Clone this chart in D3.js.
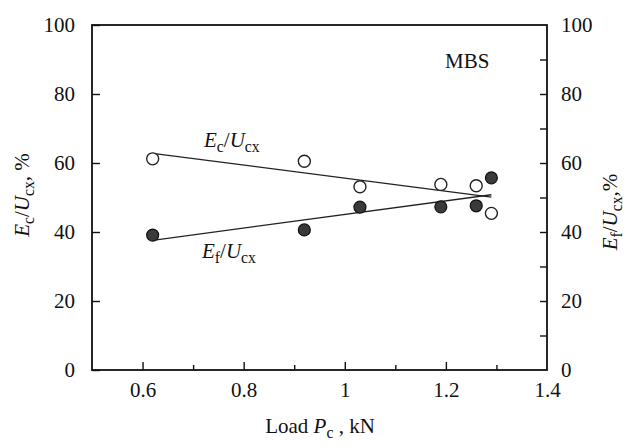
<!DOCTYPE html>
<style>
body { margin: 0; background: #fff; }
text { font-family: "Liberation Serif", "DejaVu Serif", serif; }
.axis .domain { display: none; }
</style>
<svg width="631" height="446"></svg>
<script src="https://d3js.org/d3.v7.min.js"></script>
<script>

// load values (kN) and the two energy ratios (%)
var loads = [0.62, 0.92, 1.03, 1.19, 1.26, 1.29];
var ecRatio = [61.2, 60.5, 53.1, 53.8, 53.4, 45.4];   // open circles
var efRatio = [39.1, 40.6, 47.2, 47.3, 47.6, 55.7];   // filled circles

// fitted straight lines, end points
var ecFit = [[0.62, 62.8], [1.29, 50.1]];
var efFit = [[0.62, 37.6], [1.29, 50.8]];

var xTicks = [0.6, 0.8, 1, 1.2, 1.4];
var xMinor = [0.7, 0.9, 1.1, 1.3];
var yTicks = [0, 20, 40, 60, 80, 100];
var yRightTicks = [10, 20, 30, 40, 50, 60, 70, 80, 90];

var svg = d3.select("svg"),
    margin = {top: 25, right: 84, bottom: 76, left: 92},
    width = +svg.attr("width") - margin.left - margin.right,
    height = +svg.attr("height") - margin.top - margin.bottom,
    g = svg.append("g").attr("transform", "translate(" + margin.left + "," + margin.top + ")");

var x = d3.scaleLinear().domain([0.5, 1.4]).range([0, width]);
var y = d3.scaleLinear().domain([0, 100]).range([height, 0]);

var fs = 21;

// bottom axis, major + minor ticks pointing inward
g.append("g")
    .attr("class", "axis")
    .attr("transform", "translate(0," + height + ")")
    .call(d3.axisBottom(x).tickValues(xTicks).tickSize(-8).tickPadding(12)
      .tickFormat(function(d) { return d === 1 ? "1" : d3.format(".1f")(d); }))
    .call(function(a) { a.selectAll(".tick").filter(function(d) { return d === 1.4; }).select("line").remove(); });

g.append("g")
    .attr("class", "axis")
    .attr("transform", "translate(0," + height + ")")
    .call(d3.axisBottom(x).tickValues(xMinor).tickSize(-5).tickFormat(""));

// left axis
g.append("g")
    .attr("class", "axis")
    .call(d3.axisLeft(y).tickValues(yTicks).tickSize(-8).tickPadding(17));

// right axis, ticks every 10
g.append("g")
    .attr("class", "axis")
    .attr("transform", "translate(" + width + ",0)")
    .call(d3.axisRight(y).tickValues(yRightTicks).tickSize(-7).tickFormat(""));

g.append("g")
    .attr("class", "axis")
    .attr("transform", "translate(" + width + ",0)")
    .call(d3.axisRight(y).tickValues(yTicks).tickSize(0).tickPadding(14));

svg.selectAll(".axis text")
    .attr("font-size", fs)
    .attr("font-family", "Liberation Serif")
    .attr("fill", "#111");
svg.selectAll(".axis line").attr("stroke", "#111").attr("stroke-width", 1.4);

// frame
g.append("rect")
    .attr("width", width)
    .attr("height", height)
    .attr("fill", "none")
    .attr("stroke", "#111")
    .attr("stroke-width", 1.8);

// fit lines
var line = d3.line()
    .x(function(d) { return x(d[0]); })
    .y(function(d) { return y(d[1]); });

[ecFit, efFit].forEach(function(f) {
  g.append("path")
      .datum(f)
      .attr("d", line)
      .attr("fill", "none")
      .attr("stroke", "#222")
      .attr("stroke-width", 1.3);
});

// points
g.selectAll(".ec")
    .data(loads)
  .enter().append("circle")
    .attr("class", "ec")
    .attr("cx", function(d) { return x(d); })
    .attr("cy", function(d, i) { return y(ecRatio[i]); })
    .attr("r", 6)
    .attr("fill", "#fff")
    .attr("stroke", "#222")
    .attr("stroke-width", 1.4);

g.selectAll(".ef")
    .data(loads)
  .enter().append("circle")
    .attr("class", "ef")
    .attr("cx", function(d) { return x(d); })
    .attr("cy", function(d, i) { return y(efRatio[i]); })
    .attr("r", 6)
    .attr("fill", "#3a3a3a")
    .attr("stroke", "#111")
    .attr("stroke-width", 1.2);

// E_sub / U_cx label
function ratioLabel(sel, sub, tail) {
  sel.append("tspan").attr("font-style", "italic").text("E");
  sel.append("tspan").attr("font-size", fs * 0.75).attr("dy", 5).text(sub);
  sel.append("tspan").attr("dy", -5).text("/");
  sel.append("tspan").attr("font-style", "italic").text("U");
  sel.append("tspan").attr("font-size", fs * 0.75).attr("dy", 5).text("cx");
  if (tail) sel.append("tspan").attr("dy", -5).text(tail);
}

svg.append("text")
    .attr("x", 204).attr("y", 147)
    .attr("font-size", fs).attr("fill", "#111")
    .call(ratioLabel, "c");

svg.append("text")
    .attr("x", 202).attr("y", 258)
    .attr("font-size", fs).attr("fill", "#111")
    .call(ratioLabel, "f");

svg.append("text")
    .attr("x", 445).attr("y", 68)
    .attr("font-size", fs).attr("fill", "#111")
    .text("MBS");

// axis titles
svg.append("text")
    .attr("transform", "translate(29,195) rotate(-90)")
    .attr("text-anchor", "middle")
    .attr("font-size", fs).attr("fill", "#111")
    .call(ratioLabel, "c", ", %");

svg.append("text")
    .attr("transform", "translate(617,212) rotate(-90)")
    .attr("text-anchor", "middle")
    .attr("font-size", fs).attr("fill", "#111")
    .call(ratioLabel, "f", ",%");

var xt = svg.append("text")
    .attr("x", 320).attr("y", 433)
    .attr("text-anchor", "middle")
    .attr("font-size", fs).attr("fill", "#111");
xt.append("tspan").text("Load ");
xt.append("tspan").attr("font-style", "italic").text("P");
xt.append("tspan").attr("font-size", fs * 0.75).attr("dy", 5).text("c");
xt.append("tspan").attr("dy", -5).text(" , kN");

</script>
